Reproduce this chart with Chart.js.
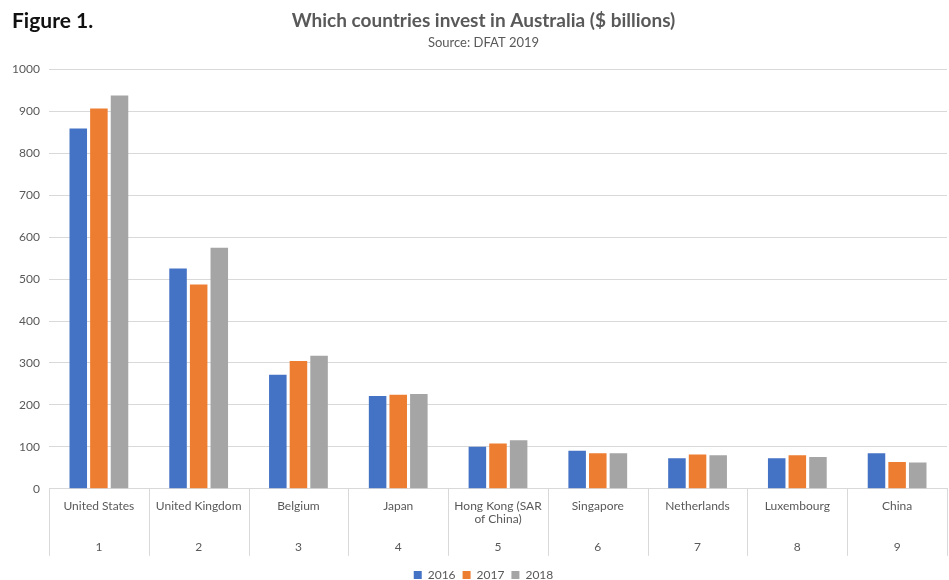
<!DOCTYPE html>
<html>
<head>
<meta charset="utf-8">
<script src="https://cdn.jsdelivr.net/npm/chart.js@4"></script>
<style>
  body { margin: 0; background: #fff; }
  #wrap { position: relative; width: 949px; height: 580px; }
  #fig { position: absolute; left: 12px; top: 7px; font: bold 21px Lato, sans-serif; color: #111; }
</style>
</head>
<body>
<div id="wrap">
  <canvas id="investChart"></canvas>
  <div id="fig">Figure 1.</div>
</div>
<script>
// data
const countries = [
    ['United States', '', '', '1'],
    ['United Kingdom', '', '', '2'],
    ['Belgium', '', '', '3'],
    ['Japan', '', '', '4'],
    ['Hong Kong (SAR', 'of China)', '', '5'],
    ['Singapore', '', '', '6'],
    ['Netherlands', '', '', '7'],
    ['Luxembourg', '', '', '8'],
    ['China', '', '', '9']
];
const years = ['2016', '2017', '2018'];
const values2016 = [859, 525, 272, 221, 100, 91, 73, 73, 85];
const values2017 = [907, 487, 305, 224, 108, 85, 82, 80, 64];
const values2018 = [938, 575, 317, 226, 116, 85, 80, 76, 63];
const yTicks = [0, 100, 200, 300, 400, 500, 600, 700, 800, 900, 1000];

const textGrey = '#595959';
const gridGrey = '#d9d9d9';

// vertical separators between the categories, below the axis
const separators = {
    id: 'separators',
    afterDraw(chart) {
        const x = chart.scales.x;
        const c = chart.ctx;
        const n = chart.data.labels.length;
        const w = (x.right - x.left) / n;
        c.save();
        c.strokeStyle = gridGrey;
        c.lineWidth = 1;
        for (let i = 0; i <= n; i++) {
            const px = Math.round(x.left + i * w) + 0.5;
            c.beginPath();
            c.moveTo(px, x.top);
            c.lineTo(px, x.top + 67);
            c.stroke();
        }
        c.restore();
    }
};

const ctx = document.getElementById('investChart');
new Chart(ctx.getContext('2d'), {
    type: 'bar',
    data: {
        labels: countries,
        datasets: [
            { label: years[0], data: values2016, backgroundColor: '#4472C4' },
            { label: years[1], data: values2017, backgroundColor: '#ED7D31' },
            { label: years[2], data: values2018, backgroundColor: '#A5A5A5' }
        ]
    },
    plugins: [separators],
    options: {
        responsive: true,
        maintainAspectRatio: false,
        animation: false,
        categoryPercentage: 0.62,
        barPercentage: 0.85,
        layout: { padding: { left: 20, right: 2, top: 0, bottom: -11 } },
        plugins: {
            title: {
                display: true,
                text: 'Which countries invest in Australia ($ billions)',
                color: textGrey,
                font: { family: 'Lato', size: 19, weight: 'bold' },
                padding: { top: 9, bottom: 2 }
            },
            subtitle: {
                display: true,
                text: 'Source: DFAT 2019',
                color: textGrey,
                font: { family: 'Lato', size: 13 },
                padding: { top: 1, bottom: 19 }
            },
            legend: {
                position: 'bottom',
                title: { display: true, text: ' ', font: { size: 5 }, padding: 0 },
                labels: {
                    boxWidth: 8,
                    boxHeight: 8,
                    padding: 7,
                    color: textGrey,
                    font: { family: 'Lato', size: 12 }
                }
            },
            tooltip: { enabled: false }
        },
        scales: {
            x: {
                grid: { display: false },
                border: { display: true, color: gridGrey },
                ticks: {
                    color: textGrey,
                    padding: 2,
                    maxRotation: 0,
                    autoSkip: false,
                    font: { family: 'Lato', size: 12, lineHeight: 1.15 }
                }
            },
            y: {
                min: 0,
                max: 1000,
                afterBuildTicks: (axis) => { axis.ticks = yTicks.map(v => ({ value: v })); },
                afterFit: (axis) => { axis.width = 29; },
                grid: { color: gridGrey, drawTicks: false },
                border: { display: false },
                ticks: {
                    color: textGrey,
                    mirror: true,
                    crossAlign: 'far',
                    padding: -37,
                    callback: (v) => String(v),
                    font: { family: 'Lato', size: 12 }
                }
            }
        }
    }
});
</script>
</body>
</html>
